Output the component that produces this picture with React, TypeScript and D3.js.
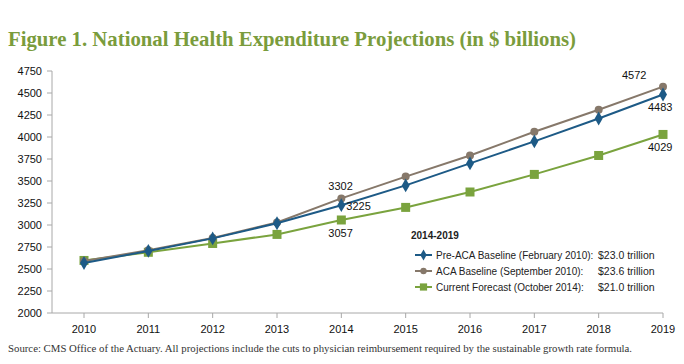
import React from "react";
import * as d3 from "d3";

const years = [2010, 2011, 2012, 2013, 2014, 2015, 2016, 2017, 2018, 2019];
const preAca = [2568, 2705, 2848, 3020, 3225, 3450, 3700, 3950, 4210, 4483];
const aca = [2590, 2712, 2852, 3028, 3302, 3550, 3790, 4060, 4310, 4572];
const current = [2597, 2690, 2790, 2893, 3057, 3200, 3375, 3575, 3790, 4029];
const yTicks = [2000, 2250, 2500, 2750, 3000, 3250, 3500, 3750, 4000, 4250, 4500, 4750];

const legendRows = [
  { name: "Pre-ACA Baseline (February 2010):", total: "$23.0 trillion", color: "#1d5a86", shape: "diamond" },
  { name: "ACA Baseline (September 2010):", total: "$23.6 trillion", color: "#86786a", shape: "circle" },
  { name: "Current Forecast (October 2014):", total: "$21.0 trillion", color: "#7aa33e", shape: "square" },
];

const W = 684, H = 364;
const sans = "'Liberation Sans', Arial, sans-serif";
const serif = "'Liberation Serif', 'Times New Roman', serif";

function Marker({ shape, x, y, color, s = 1 }: { shape: string; x: number; y: number; color: string; s?: number }) {
  if (shape === "circle") return <circle cx={x} cy={y} r={4 * s} fill={color} />;
  if (shape === "square") return <rect x={x - 4.5 * s} y={y - 4.5 * s} width={9 * s} height={9 * s} fill={color} />;
  const p = d3.symbol(d3.symbolDiamond, 55 * s * s)() as string;
  return <path d={p} transform={`translate(${x},${y})`} fill={color} />;
}

export default function App() {
  const x = d3.scaleLinear().domain([2010, 2019]).range([84, 663]);
  const y = d3.scaleLinear().domain([2000, 4750]).range([313, 71]);
  const line = d3.line<number>().x((_, i) => x(years[i])).y((d) => y(d));
  const series = [
    { vals: current, ...legendRows[2] },
    { vals: aca, ...legendRows[1] },
    { vals: preAca, ...legendRows[0] },
  ];
  const axisColor = "#a8a8a8";

  return (
    <svg width={W} height={H} style={{ position: "absolute", left: 0, top: 0, background: "#fff" }}>
      <text x={8} y={46} fill="#7a9c3c" fontFamily={serif} fontWeight="bold" fontSize={22}
        textLength={568} lengthAdjust="spacingAndGlyphs">
        Figure 1. National Health Expenditure Projections (in $ billions)
      </text>

      {/* y axis */}
      <line x1={52} x2={52} y1={71} y2={313} stroke={axisColor} />
      {yTicks.map((t) => (
        <g key={t}>
          <line x1={47} x2={52} y1={y(t)} y2={y(t)} stroke={axisColor} />
          <text x={42} y={y(t) + 4} textAnchor="end" fontFamily={sans} fontSize={11} fill="#111">{t}</text>
        </g>
      ))}
      {/* x axis */}
      <line x1={52} x2={663} y1={313} y2={313} stroke={axisColor} />
      {years.map((yr) => (
        <g key={yr}>
          <line x1={x(yr)} x2={x(yr)} y1={313} y2={318} stroke={axisColor} />
          <text x={x(yr)} y={333} textAnchor="middle" fontFamily={sans} fontSize={11} fill="#111">{yr}</text>
        </g>
      ))}

      {series.map((s) => (
        <g key={s.name}>
          <path d={line(s.vals) as string} fill="none" stroke={s.color} strokeWidth={2} />
          {s.vals.map((v, i) => (
            <Marker key={i} shape={s.shape} x={x(years[i])} y={y(v)} color={s.color} />
          ))}
        </g>
      ))}

      {/* data labels */}
      <g fontFamily={sans} fontSize={11} fill="#111">
        <text x={x(2014) - 13} y={y(aca[4]) - 8}>{aca[4]}</text>
        <text x={x(2014) + 5} y={y(preAca[4]) + 5}>{preAca[4]}</text>
        <text x={x(2014) - 13} y={y(current[4]) + 17}>{current[4]}</text>
        <text x={x(2019) - 41} y={y(aca[9]) - 8}>{aca[9]}</text>
        <text x={x(2019) - 15} y={y(preAca[9]) + 17}>{preAca[9]}</text>
        <text x={x(2019) - 15} y={y(current[9]) + 17}>{current[9]}</text>
      </g>

      {/* legend */}
      <g fontFamily={sans} fontSize={10} fill="#222">
        <text x={411} y={239} fontWeight="bold">2014-2019</text>
        {legendRows.map((r, i) => {
          const ly = 255 + i * 16;
          return (
            <g key={r.name}>
              <line x1={415} x2={432} y1={ly} y2={ly} stroke={r.color} strokeWidth={2} />
              <Marker shape={r.shape} x={423.5} y={ly} color={r.color} s={0.8} />
              <text x={436} y={ly + 3.5}>{r.name}</text>
              <text x={598} y={ly + 3.5} fontSize={10.5}>{r.total}</text>
            </g>
          );
        })}
      </g>

      <text x={8} y={352} fontFamily={serif} fontSize={9.5} fill="#333" textLength={624} lengthAdjust="spacingAndGlyphs">
        Source: CMS Office of the Actuary. All projections include the cuts to physician reimbursement required by the sustainable growth rate formula.
      </text>
    </svg>
  );
}
